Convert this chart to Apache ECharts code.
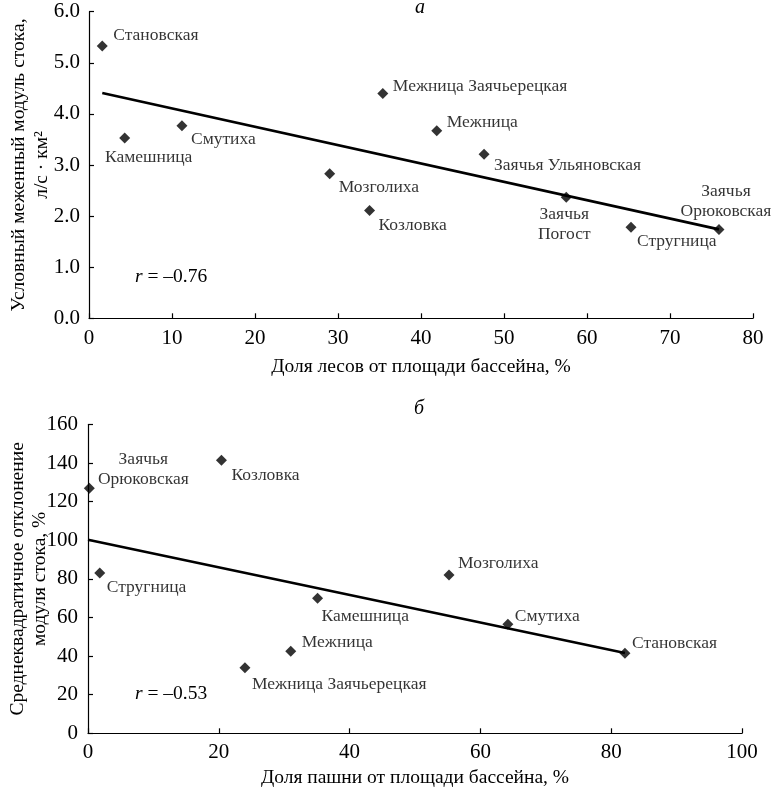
<!DOCTYPE html>
<html>
<head>
<meta charset="utf-8">
<script src="https://cdn.jsdelivr.net/npm/echarts@6/dist/echarts.min.js"></script>
<style>
html,body{margin:0;padding:0;background:#fff;}
#chart{width:775px;height:790px;}
</style>
</head>
<body>
<div id="chart"></div>
<script>
// ---- Panel а: forest share vs low-flow runoff modulus ----
const namesA = ['Становская','Камешница','Смутиха','Мозголиха','Козловка','Межница Заячьерецкая','Межница','Заячья Ульяновская','Заячья Погост','Стругница','Заячья Орюковская'];
const forestShare = [1.6, 4.3, 11.2, 29.0, 33.8, 35.4, 41.9, 47.6, 57.5, 65.3, 75.9];
const lowFlowModulus = [5.33, 3.53, 3.77, 2.83, 2.11, 4.40, 3.67, 3.21, 2.37, 1.78, 1.74];
const trendAx = [1.6, 75.9];
const trendAy = [4.41, 1.74];
const rA = 'r = –0.76';

// ---- Panel б: arable share vs standard deviation of modulus ----
const namesB = ['Заячья Орюковская','Стругница','Козловка','Межница Заячьерецкая','Межница','Камешница','Мозголиха','Смутиха','Становская'];
const arableShare = [0.2, 1.8, 20.4, 24.0, 31.0, 35.1, 55.2, 64.2, 82.1];
const sdModulus = [127, 83, 141.5, 34, 42.5, 70, 82, 56.5, 41.5];
const trendBx = [0, 82.1];
const trendBy = [100.3, 41.6];
const rB = 'r = –0.53';

// label placement (layout only): [dx, dy, align, wrap]
const placeA = {
  'Становская': [11, -11, 'left'],
  'Камешница': [24, 19, 'center'],
  'Смутиха': [9, 14, 'left'],
  'Мозголиха': [9, 14, 'left'],
  'Козловка': [9, 15, 'left'],
  'Межница Заячьерецкая': [10, -7, 'left'],
  'Межница': [10, -8, 'left'],
  'Заячья Ульяновская': [10, 11, 'left'],
  'Заячья Погост': [-2, 27, 'center', true],
  'Стругница': [6, 14, 'left'],
  'Заячья Орюковская': [7, -28, 'center', true]
};
const placeB = {
  'Заячья Орюковская': [54, -19, 'center', true],
  'Стругница': [7, 14, 'left'],
  'Козловка': [10, 15, 'left'],
  'Межница Заячьерецкая': [7, 17, 'left'],
  'Межница': [11, -9, 'left'],
  'Камешница': [4, 18, 'left'],
  'Мозголиха': [9, -12, 'left'],
  'Смутиха': [7, -8, 'left'],
  'Становская': [7, -10, 'left']
};

const FONT = '"Liberation Serif", "Times New Roman", serif';

function buildPoints(names, xs, ys, place) {
  return names.map((n, i) => {
    const p = place[n];
    return {
      name: n,
      value: [xs[i], ys[i]],
      label: {
        show: true,
        position: 'inside',
        align: p[2],
        verticalAlign: 'middle',
        offset: [p[0], p[1]],
        formatter: p[3] ? n.replace(' ', '\n') : n,
        color: '#000',
        fontFamily: FONT,
        fontSize: 17.5,
        lineHeight: 19.5
      }
    };
  });
}

const axisCommon = {
  axisLine: { show: true, lineStyle: { color: '#000', width: 1.2 } },
  axisTick: { show: true, inside: true, length: 5, lineStyle: { color: '#000', width: 1.2 } },
  splitLine: { show: false },
  axisLabel: { color: '#000', fontFamily: FONT, fontSize: 21 },
  nameMoveOverlap: false,
  nameTextStyle: { color: '#000', fontFamily: FONT, fontSize: 19.5, lineHeight: 23 }
};

const chart = echarts.init(document.getElementById('chart'), null, { renderer: 'canvas' });

const option = {
  animation: false,
  backgroundColor: '#fff',
  grid: [
    { left: 89, top: 11.7, width: 664, height: 306.6, containLabel: false, outerBoundsMode: 'none' },
    { left: 88, top: 424.5, width: 654, height: 308.8, containLabel: false, outerBoundsMode: 'none' }
  ],
  xAxis: [
    Object.assign({}, axisCommon, {
      gridIndex: 0, type: 'value', min: 0, max: 80, interval: 10,
      name: 'Доля лесов от площади бассейна, %', nameLocation: 'middle', nameGap: 37,
      axisLabel: Object.assign({}, axisCommon.axisLabel, { margin: 10 })
    }),
    Object.assign({}, axisCommon, {
      gridIndex: 1, type: 'value', min: 0, max: 100, interval: 20,
      name: 'Доля пашни от площади бассейна, %', nameLocation: 'middle', nameGap: 33,
      axisLabel: Object.assign({}, axisCommon.axisLabel, { margin: 9 })
    })
  ],
  yAxis: [
    Object.assign({}, axisCommon, {
      gridIndex: 0, type: 'value', min: 0, max: 6, interval: 1,
      name: 'Условный меженный модуль стока,\nл/с · км²', nameLocation: 'middle', nameGap: 36, nameRotate: 90,
      axisLabel: Object.assign({}, axisCommon.axisLabel, { margin: 9, formatter: v => v.toFixed(1) })
    }),
    Object.assign({}, axisCommon, {
      gridIndex: 1, type: 'value', min: 0, max: 160, interval: 20,
      name: 'Среднеквадратичное отклонение\nмодуля стока, %', nameLocation: 'middle', nameGap: 37, nameRotate: 90,
      nameTextStyle: Object.assign({}, axisCommon.nameTextStyle, { lineHeight: 22 }),
      axisLabel: Object.assign({}, axisCommon.axisLabel, { margin: 10 })
    })
  ],
  series: [
    {
      type: 'line', xAxisIndex: 0, yAxisIndex: 0, z: 2,
      data: trendAx.map((x, i) => [x, trendAy[i]]),
      showSymbol: false, symbol: 'none',
      lineStyle: { color: '#000', width: 2.6 },
      emphasis: { disabled: true }, silent: true
    },
    {
      type: 'scatter', xAxisIndex: 0, yAxisIndex: 0, z: 3,
      symbol: 'diamond', symbolSize: 11,
      itemStyle: { color: '#000' },
      data: buildPoints(namesA, forestShare, lowFlowModulus, placeA),
      emphasis: { disabled: true }, silent: true
    },
    {
      type: 'line', xAxisIndex: 1, yAxisIndex: 1, z: 2,
      data: trendBx.map((x, i) => [x, trendBy[i]]),
      showSymbol: false, symbol: 'none',
      lineStyle: { color: '#000', width: 2.6 },
      emphasis: { disabled: true }, silent: true
    },
    {
      type: 'scatter', xAxisIndex: 1, yAxisIndex: 1, z: 3,
      symbol: 'diamond', symbolSize: 11,
      itemStyle: { color: '#000' },
      data: buildPoints(namesB, arableShare, sdModulus, placeB),
      emphasis: { disabled: true }, silent: true
    }
  ],
  graphic: [
    { type: 'text', left: 415, top: -2, style: { text: 'а', font: 'italic 20px ' + FONT, fill: '#000' } },
    { type: 'text', left: 414, top: 399, style: { text: 'б', font: 'italic 20px ' + FONT, fill: '#000' } },
    { type: 'text', left: 135, top: 267, style: {
        text: '{i|r}' + rA.slice(1),
        rich: { i: { fontStyle: 'italic', fontFamily: FONT, fontSize: 19.5, fill: '#000' } },
        font: '19.5px ' + FONT, fill: '#000' } },
    { type: 'text', left: 135, top: 684, style: {
        text: '{i|r}' + rB.slice(1),
        rich: { i: { fontStyle: 'italic', fontFamily: FONT, fontSize: 19.5, fill: '#000' } },
        font: '19.5px ' + FONT, fill: '#000' } }
  ]
};

chart.setOption(option);
</script>
</body>
</html>
